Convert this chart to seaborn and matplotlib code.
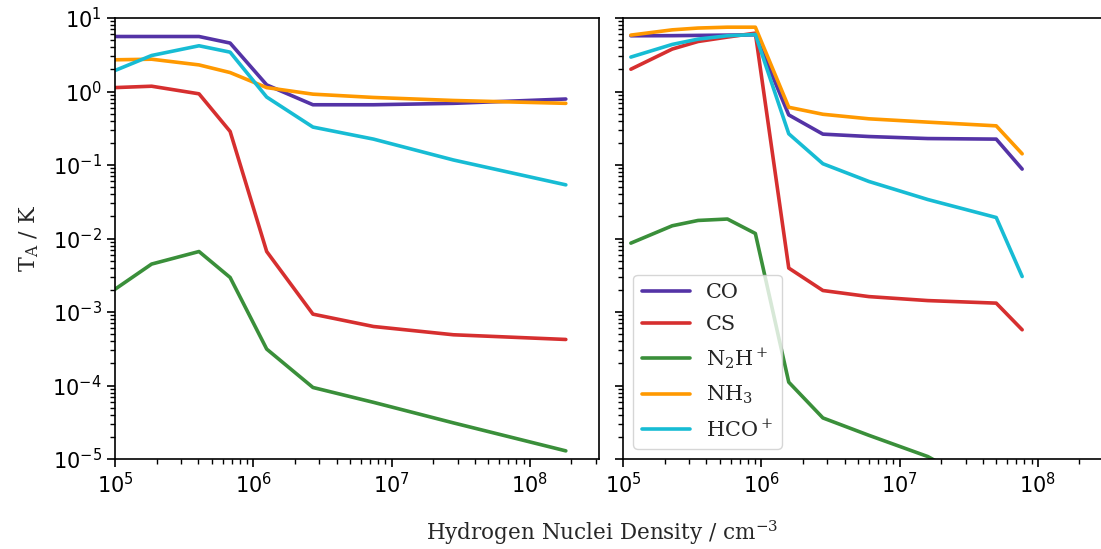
import numpy as np
import pandas as pd
import matplotlib
matplotlib.use("Agg")
import matplotlib.pyplot as plt
import seaborn as sns

# Species and their line colours
species = ["CO", "CS", "N2H+", "NH3", "HCO+"]
labels = {
    "CO": "CO",
    "CS": "CS",
    "N2H+": r"$\mathregular{N_2H^+}$",
    "NH3": r"$\mathregular{NH_3}$",
    "HCO+": r"$\mathregular{HCO^+}$",
}
colors = ["#5433a6", "#d62f2f", "#3a8f3a", "#ff9900", "#17bcd4"]

# Left panel: antenna temperature vs. density
density_left = [1.0e5, 1.84e5, 4.05e5, 6.8e5, 1.25e6, 2.7e6, 7.4e6, 2.8e7, 1.82e8]
co_left = [5.6, 5.6, 5.6, 4.56, 1.23, 0.66, 0.66, 0.69, 0.79]
cs_left = [1.13, 1.18, 0.93, 0.286, 6.65e-3, 9.35e-4, 6.35e-4, 4.9e-4, 4.23e-4]
n2hp_left = [2.04e-3, 4.49e-3, 6.65e-3, 2.95e-3, 3.13e-4, 9.4e-5, 5.9e-5, 3.1e-5, 1.29e-5]
nh3_left = [2.7, 2.75, 2.3, 1.81, 1.13, 0.92, 0.83, 0.755, 0.69]
hcop_left = [1.93, 3.09, 4.19, 3.43, 0.84, 0.328, 0.225, 0.117, 0.0537]

# Right panel
density_right = [1.14e5, 2.27e5, 3.49e5, 5.69e5, 9.06e5, 1.58e6, 2.79e6, 6.0e6, 1.6e7, 5.0e7, 7.7e7]
co_right = [5.73, 5.75, 5.8, 5.85, 5.9, 0.48, 0.263, 0.244, 0.229, 0.225, 0.088]
cs_right = [2.01, 3.78, 4.79, 5.5, 6.22, 3.96e-3, 1.96e-3, 1.62e-3, 1.43e-3, 1.32e-3, 5.73e-4]
n2hp_right = [8.65e-3, 0.0149, 0.0176, 0.0184, 0.0117, 1.11e-4, 3.62e-5, 2.1e-5, 1.08e-5, 3.3e-6, 2.5e-6]
nh3_right = [5.85, 6.9, 7.3, 7.5, 7.5, 0.61, 0.49, 0.425, 0.383, 0.341, 0.142]
hcop_right = [2.94, 4.37, 5.16, 5.73, 5.97, 0.266, 0.104, 0.0597, 0.0339, 0.0193, 3.04e-3]


def long_frame(density, series):
    rows = []
    for name, vals in zip(species, series):
        for d, v in zip(density, vals):
            rows.append({"density": d, "TA": v, "species": labels[name]})
    return pd.DataFrame(rows)


df_left = long_frame(density_left, [co_left, cs_left, n2hp_left, nh3_left, hcop_left])
df_right = long_frame(density_right, [co_right, cs_right, n2hp_right, nh3_right, hcop_right])

sns.set_theme(style="ticks", rc={
    "axes.linewidth": 1.2,
    "xtick.major.size": 6, "ytick.major.size": 6,
    "xtick.minor.size": 3.5, "ytick.minor.size": 3.5,
    "xtick.major.width": 1.2, "ytick.major.width": 1.2,
    "xtick.minor.width": 1.0, "ytick.minor.width": 1.0,
    "axes.edgecolor": "black",
    "xtick.color": "black", "ytick.color": "black",
})
plt.rcParams["font.family"] = ["DejaVu Sans"]

palette = dict(zip([labels[s] for s in species], colors))
order = [labels[s] for s in species]

fig = plt.figure(figsize=(11.01, 5.49), dpi=100)
W, H = 1101, 549
ax1 = fig.add_axes([115 / W, (H - 459) / H, 484 / W, 441 / H])
ax2 = fig.add_axes([623 / W, (H - 459) / H, 484 / W, 441 / H], sharey=ax1)

for ax, df, show_legend in [(ax1, df_left, False), (ax2, df_right, True)]:
    sns.lineplot(data=df, x="density", y="TA", hue="species", hue_order=order,
                 palette=palette, linewidth=2.6, ax=ax, legend=show_legend,
                 sort=False, estimator=None)
    ax.set_xscale("log")
    ax.set_yscale("log")
    ax.set_xlim(1e5, 10 ** 8.5)
    ax.set_ylim(1e-5, 1e1)
    ax.set_xlabel("")
    ax.set_ylabel("")
    ax.tick_params(axis="both", which="major", labelsize=15)
    for s in ax.spines.values():
        s.set_visible(True)

ax2.tick_params(axis="y", labelleft=False)

leg = ax2.legend(loc="lower left", prop={"family": "DejaVu Serif", "size": 15},
                 handlelength=2.3, framealpha=0.8, labelspacing=0.6)

fig.text(602 / W, 1 - 533 / H, r"Hydrogen Nuclei Density / cm$^{\mathregular{-3}}$",
         ha="center", va="center", fontsize=15.5, family="DejaVu Serif")
fig.text(29 / W, 1 - 238 / H, r"$\mathregular{T_A}$ / K", ha="center", va="center",
         rotation=90, fontsize=16, family="DejaVu Serif")

fig.savefig("out.png", dpi=100)
